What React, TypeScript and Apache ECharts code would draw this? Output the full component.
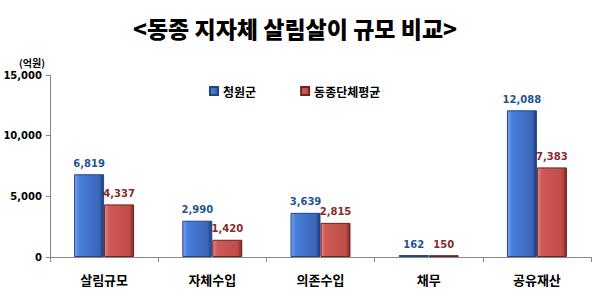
import React, { useEffect, useRef } from "react";
import * as echarts from "echarts";

const categories = ["살림규모", "자체수입", "의존수입", "채무", "공유재산"];
const seriesNames = ["청원군", "동종단체평균"];
const cheongwon = [6819, 2990, 3639, 162, 12088];
const average = [4337, 1420, 2815, 150, 7383];
const yTicks = { min: 0, max: 15000, interval: 5000 };

const FONT = "'Noto Sans CJK KR', 'DejaVu Sans', sans-serif";

const blueFill = new echarts.graphic.LinearGradient(0, 0, 1, 0, [
  { offset: 0, color: "#7aa8f0" },
  { offset: 0.15, color: "#4a7fdc" },
  { offset: 0.85, color: "#3a66b8" },
  { offset: 1, color: "#1e3a78" },
]);
const redFill = new echarts.graphic.LinearGradient(0, 0, 1, 0, [
  { offset: 0, color: "#e08a88" },
  { offset: 0.15, color: "#cf5a57" },
  { offset: 0.85, color: "#c04d4a" },
  { offset: 1, color: "#7a2a28" },
]);

export default function App() {
  const ref = useRef<HTMLDivElement>(null);
  useEffect(() => {
    const chart = echarts.init(ref.current!, null, { renderer: "svg" });
    chart.setOption({
      animation: false,
      backgroundColor: "#ffffff",
      title: {
        text: "<동종 지자체 살림살이 규모 비교>",
        left: 290,
        textAlign: "center",
        top: 11,
        textStyle: { fontFamily: FONT, fontSize: 23, fontWeight: 900, color: "#000" },
      },
      legend: {
        left: 204,
        top: 80,
        itemWidth: 8,
        itemHeight: 8,
        itemGap: 44,
        icon: "rect",
        textStyle: { fontFamily: FONT, fontSize: 12, fontWeight: "bold", color: "#000" },
        data: seriesNames,
      },
      grid: { left: 50, right: 9, top: 75, bottom: 42 },
      xAxis: {
        type: "category",
        data: categories,
        axisLine: { lineStyle: { color: "#888", width: 1 } },
        axisTick: { show: true, length: 5, lineStyle: { color: "#888" } },
        axisLabel: {
          fontFamily: FONT,
          fontSize: 13,
          fontWeight: "bold",
          color: "#000",
          margin: 16,
        },
      },
      yAxis: {
        type: "value",
        min: yTicks.min,
        max: yTicks.max,
        interval: yTicks.interval,
        name: "(억원)",
        nameLocation: "end",
        nameGap: 8,
        nameTextStyle: {
          fontFamily: FONT,
          fontSize: 10,
          fontWeight: "bold",
          color: "#000",
          align: "right",
          padding: [0, 5, 0, 0],
        },
        splitLine: { show: false },
        axisLine: { show: true, lineStyle: { color: "#888" } },
        axisTick: { show: true, length: 4, lineStyle: { color: "#888" } },
        axisLabel: {
          fontFamily: "'DejaVu Sans', sans-serif",
          fontSize: 10,
          fontWeight: "bold",
          color: "#000",
          margin: 8,
          formatter: (v: number) => v.toLocaleString("en-US"),
        },
      },
      series: [
        {
          name: seriesNames[0],
          type: "bar",
          data: cheongwon,
          barWidth: 30,
          barGap: "0%",
          itemStyle: { color: blueFill, borderColor: "#24447e", borderWidth: 1 },
          label: {
            show: true,
            position: "top",
            distance: 6,
            fontFamily: "'DejaVu Sans', sans-serif",
            fontSize: 10,
            fontWeight: "bold",
            color: "#1f5590",
            formatter: (p: any) => Number(p.value).toLocaleString("en-US"),
          },
        },
        {
          name: seriesNames[1],
          type: "bar",
          data: average,
          barWidth: 30,
          barGap: "0%",
          itemStyle: { color: redFill, borderColor: "#6e2422", borderWidth: 1 },
          label: {
            show: true,
            position: "top",
            distance: 6,
            fontFamily: "'DejaVu Sans', sans-serif",
            fontSize: 10,
            fontWeight: "bold",
            color: "#8c2a2a",
            formatter: (p: any) => Number(p.value).toLocaleString("en-US"),
          },
        },
      ],
    });
    return () => chart.dispose();
  }, []);
  return <div ref={ref} style={{ width: 600, height: 299, position: "absolute", left: 0, top: 0 }} />;
}
